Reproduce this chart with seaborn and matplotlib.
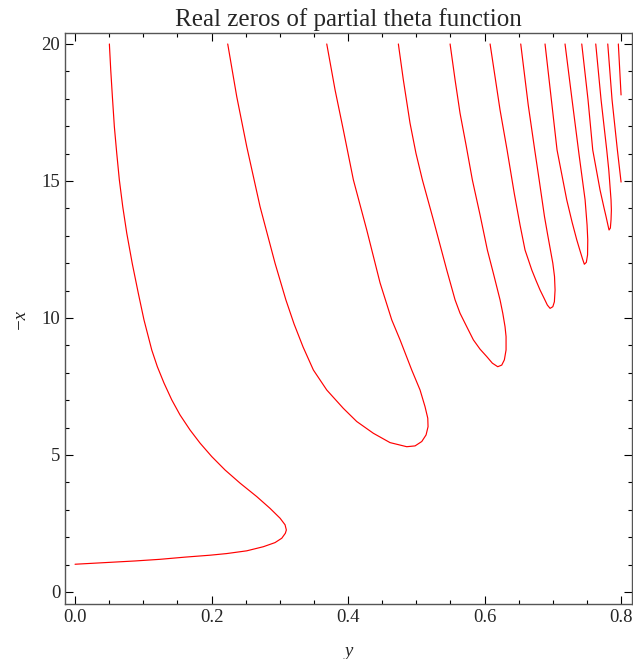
import numpy as np
import pandas as pd
import seaborn as sns
import matplotlib.pyplot as plt
from matplotlib.ticker import MultipleLocator

# curves: (y, -x) pairs, one list per connected branch
a_y = [0.0503, 0.0523, 0.0547, 0.0576, 0.0611, 0.0649, 0.0699, 0.0758, 0.0838, 0.0927,
       0.1010, 0.1124, 0.1206, 0.1304, 0.1417, 0.1538, 0.1685, 0.1832, 0.2003, 0.2198,
       0.2418, 0.2662, 0.2857, 0.3004, 0.3077, 0.3096, 0.3081, 0.3029, 0.2930, 0.2759,
       0.2516, 0.2223, 0.1978, 0.1612, 0.1245, 0.0879, 0.0513, 0.0]
a_x = [20.0, 19.05, 18.08, 16.98, 16.01, 15.04, 14.06, 13.09, 11.99, 10.90,
       9.93, 8.83, 8.22, 7.62, 7.01, 6.46, 5.91, 5.43, 4.94, 4.45,
       3.97, 3.48, 3.05, 2.69, 2.45, 2.26, 2.14, 1.96, 1.80, 1.65,
       1.50, 1.40, 1.34, 1.27, 1.19, 1.13, 1.08, 1.01]

b_y = [0.2237, 0.2369, 0.2516, 0.2711, 0.2930, 0.3089, 0.3209, 0.3341, 0.3492, 0.3688,
       0.3931, 0.4127, 0.4371, 0.4615, 0.4860, 0.4982, 0.5080, 0.5143, 0.5172, 0.5168,
       0.5128, 0.5055, 0.4933, 0.4762, 0.4640, 0.4469, 0.4274, 0.4078, 0.3931, 0.3810,
       0.3688]
b_x = [20.0, 18.08, 16.25, 14.06, 12.0, 10.66, 9.78, 8.94, 8.10, 7.37,
       6.70, 6.22, 5.79, 5.45, 5.30, 5.33, 5.49, 5.73, 6.03, 6.34,
       6.76, 7.37, 8.10, 9.20, 9.93, 11.28, 13.21, 15.04, 16.86, 18.32,
       20.0]

c_y = [0.4737, 0.4810, 0.4908, 0.4995, 0.5089, 0.5250, 0.5446, 0.5568, 0.5641, 0.5739,
       0.5836, 0.5934, 0.6032, 0.6114, 0.6193, 0.6252, 0.6290, 0.6315, 0.6315, 0.6300,
       0.6267, 0.6227, 0.6129, 0.6041, 0.5934, 0.5821, 0.5729, 0.5641, 0.5568, 0.5495]
c_x = [20.0, 18.69, 17.11, 16.01, 15.04, 13.58, 11.75, 10.66, 10.17, 9.68,
       9.20, 8.86, 8.59, 8.35, 8.22, 8.28, 8.47, 8.83, 9.32, 9.68,
       10.17, 10.66, 11.63, 12.48, 13.76, 15.04, 16.31, 17.47, 18.69, 20.0]

d_y = [0.6081, 0.6227, 0.6330, 0.6435, 0.6520, 0.6593, 0.6642, 0.6692, 0.6755, 0.6813,
       0.6872, 0.6920, 0.6960, 0.7000, 0.7023, 0.7033, 0.7025, 0.7000, 0.6965, 0.6925,
       0.6878, 0.6800, 0.6735, 0.6640, 0.6530]
d_x = [20.0, 17.59, 16.13, 14.55, 13.39, 12.48, 12.12, 11.75, 11.36, 11.02,
       10.72, 10.47, 10.35, 10.41, 10.59, 11.02, 11.51, 12.0, 12.48, 13.03,
       13.70, 15.04, 16.13, 17.77, 20.0]

e_y = [0.6886, 0.6979, 0.7062, 0.7204, 0.7282, 0.7351, 0.7399, 0.7436, 0.7462, 0.7491,
       0.7509, 0.7512, 0.7502, 0.7473, 0.7385, 0.7282, 0.7179]
e_x = [20.0, 17.96, 16.13, 14.31, 13.50, 12.85, 12.45, 12.15, 11.96, 12.03,
       12.30, 12.85, 13.39, 14.31, 15.95, 17.96, 20.0]

f_y = [0.7424, 0.7516, 0.7585, 0.7692, 0.7751, 0.7780, 0.7810, 0.7824, 0.7843, 0.7853,
       0.7858, 0.7853, 0.7820, 0.7790, 0.7707, 0.7629]
f_x = [20.0, 17.96, 16.13, 14.67, 14.01, 13.70, 13.36, 13.21, 13.28, 13.58,
       13.94, 14.31, 15.40, 16.13, 17.96, 20.0]

g_y = [0.7805, 0.7868, 0.7946, 0.800]
g_x = [20.0, 17.96, 16.13, 14.96]

h_y = [0.7960, 0.800]
h_x = [20.0, 18.14]

branches = [(a_y, a_x), (b_y, b_x), (c_y, c_x), (d_y, d_x),
            (e_y, e_x), (f_y, f_x), (g_y, g_x), (h_y, h_x)]
frames = []
for i, (yy, xx) in enumerate(branches):
    frames.append(pd.DataFrame({"y": yy, "negx": xx, "branch": i}))
df = pd.concat(frames, ignore_index=True)

sns.set_style("ticks")
plt.rcParams['font.family'] = ['Liberation Serif', 'DejaVu Serif']

fig = plt.figure(figsize=(6.33, 6.59), dpi=100)
ax = fig.add_axes([0.1027, 0.0835, 0.8957, 0.8664])

sns.lineplot(data=df, x="y", y="negx", units="branch", estimator=None, sort=False,
             color="red", linewidth=0.85, ax=ax, legend=False)

ax.set_xlim(-0.0147, 0.816)
ax.set_ylim(-0.44, 20.4)
ax.xaxis.set_major_locator(MultipleLocator(0.2))
ax.xaxis.set_minor_locator(MultipleLocator(0.05))
ax.yaxis.set_major_locator(MultipleLocator(5))
ax.yaxis.set_minor_locator(MultipleLocator(1))
ax.xaxis.set_major_formatter(plt.FuncFormatter(lambda v, p: f"{v:.1f}"))
ax.yaxis.set_major_formatter(plt.FuncFormatter(lambda v, p: f"{v:.0f}"))

ax.tick_params(which="both", direction="in", top=True, right=True,
               color="black", labelsize=13.5, width=0.8)
ax.tick_params(which="major", length=5.5)
ax.tick_params(which="minor", length=3)
for s in ax.spines.values():
    s.set_color("#555555")
    s.set_linewidth(1.0)

ax.set_xlabel("y", fontstyle="italic", fontsize=13.5, labelpad=12)
ax.set_ylabel("\u2212x", fontstyle="italic", fontsize=13.5, labelpad=10)
ax.set_title("Real zeros of partial theta function", fontsize=18, pad=5)

fig.savefig("out.png", dpi=100)
